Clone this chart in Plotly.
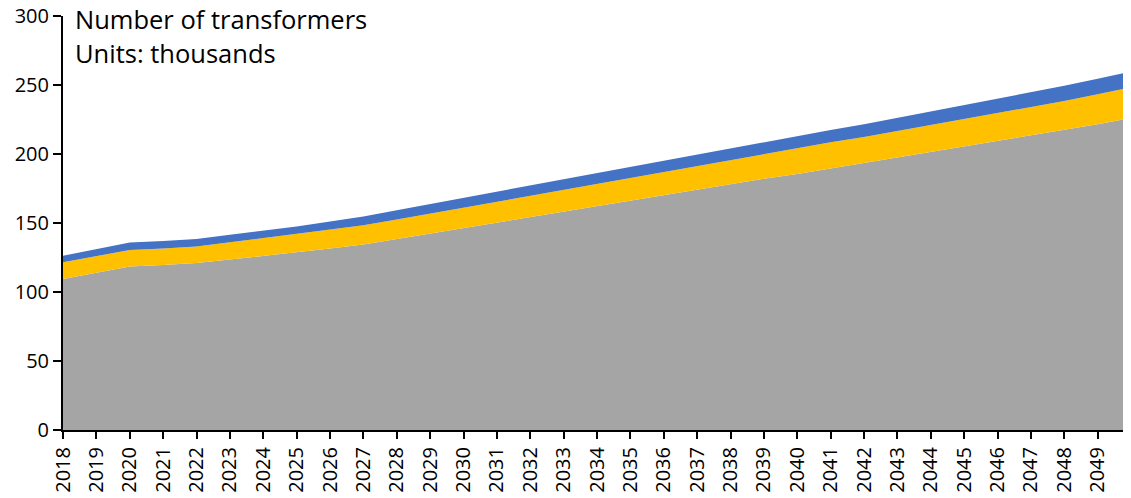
import plotly.graph_objects as go

years = list(range(2018, 2051))
gray_vals = [109.5, 114, 118.5, 119.5, 121, 123.5, 126, 128.5, 131.5, 134.5, 138.5,
             142.5, 146.5, 150.5, 154.5, 158.5, 162.5, 166.5, 170.5, 174, 178, 182,
             185.5, 189.5, 193, 197, 201, 205, 209, 213, 217, 221.5, 226]
yellow_vals = [12, 12, 12, 12, 12, 12.5, 13, 13.3, 13.5, 13.8, 14, 14.3, 14.6, 14.8,
               15, 15.2, 15.6, 16, 16.5, 17, 17.5, 18, 18.6, 19, 19.3, 19.6, 20, 20.3,
               20.6, 21, 21.4, 21.8, 22.3]
blue_vals = [4.8, 5, 5.3, 5.4, 5.4, 5.5, 5.5, 5.6, 6, 6.4, 6.8, 7, 7.2, 7.5, 7.8, 8,
             8.1, 8.2, 8.3, 8.4, 8.5, 8.6, 8.7, 8.9, 9.2, 9.5, 9.8, 10.1, 10.4, 10.7,
             11, 11.2, 11.5]
y_ticks = [0, 50, 100, 150, 200, 250, 300]

FONT = "Open Sans"

fig = go.Figure()
for vals, col in [(gray_vals, "#A5A5A5"), (yellow_vals, "#FFC000"), (blue_vals, "#4472C4")]:
    fig.add_trace(go.Scatter(x=years, y=vals, mode="lines", stackgroup="one",
                             line=dict(width=0, color=col), fillcolor=col,
                             hoverinfo="x+y", showlegend=False))

# page body has an 8px margin, so the figure is sized/offset to compensate
fig.update_layout(
    width=1123, height=490,
    margin=dict(l=55, r=0, t=8, b=68),
    paper_bgcolor="white", plot_bgcolor="white",
    font=dict(family=FONT, size=20, color="black"),
    xaxis=dict(range=[2018, 2050], tickmode="array", tickvals=years,
               ticktext=[str(y) for y in years], tickangle=-90,
               ticks="outside", ticklen=7, tickwidth=2, tickcolor="black",
               showline=True, linecolor="black", linewidth=2,
               showgrid=False, zeroline=False, automargin=False,
               ticklabeloverflow="allow",
               tickfont=dict(family=FONT, size=20, color="black")),
    yaxis=dict(range=[0, 300], tickmode="array", tickvals=y_ticks,
               ticks="outside", ticklen=8, tickwidth=2, tickcolor="black",
               showline=True, linecolor="black", linewidth=2,
               showgrid=False, zeroline=False, automargin=False,
               ticklabeloverflow="allow",
               tickfont=dict(family=FONT, size=20, color="black")),
    annotations=[
        dict(text="Number of transformers", xref="paper", yref="paper",
             x=0.0095, y=0.993, xanchor="left", yanchor="middle", showarrow=False,
             font=dict(family=FONT, size=25.5, color="black")),
        dict(text="Units: thousands", xref="paper", yref="paper",
             x=0.0095, y=0.911, xanchor="left", yanchor="middle", showarrow=False,
             font=dict(family=FONT, size=25.5, color="black")),
    ],
)

fig.write_html("out.html")
